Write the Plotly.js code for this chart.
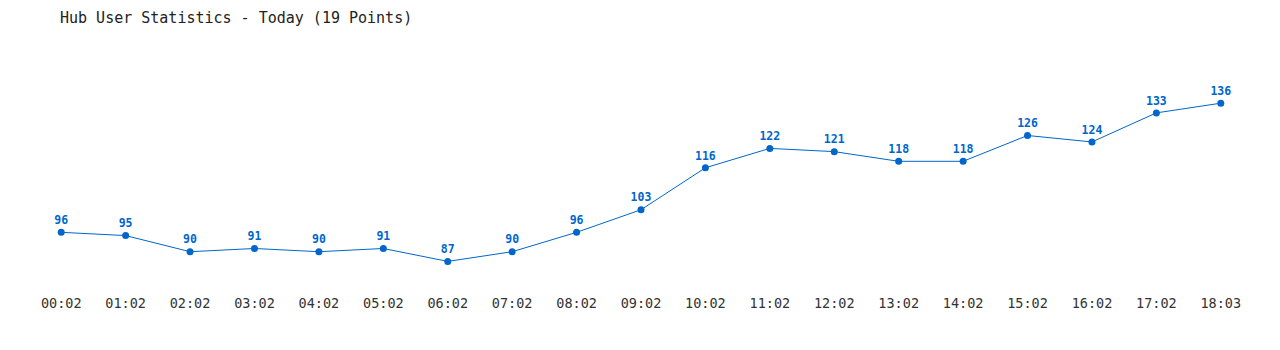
<!DOCTYPE html>
<html><head><meta charset="utf-8">
<script src="https://cdn.plot.ly/plotly-3.0.1.min.js"></script>
<style>body{margin:0;background:#fff}#chart{width:1280px;height:350px}</style>
</head><body><div id="chart"></div>
<script>
const times = ["00:02","01:02","02:02","03:02","04:02","05:02","06:02","07:02","08:02","09:02","10:02","11:02","12:02","13:02","14:02","15:02","16:02","17:02","18:03"];
const users = [96,95,90,91,90,91,87,90,96,103,116,122,121,118,118,126,124,133,136];
const idx = times.map((t,i)=>i);

const trace = {
  x: idx, y: users, type: 'scatter', mode: 'lines+markers+text',
  text: users.map(String), textposition: 'top center',
  textfont: {family: 'DejaVu Sans Mono', size: 11.5, color: '#0066cc', weight: 'bold'},
  line: {color: '#0066cc', width: 1},
  marker: {color: '#0066cc', size: 7},
  cliponaxis: false, hoverinfo: 'none'
};
const layout = {
  width: 1280, height: 350,
  margin: {l: 29, r: 27, t: 58, b: 66},
  paper_bgcolor: '#fff', plot_bgcolor: '#fff',
  showlegend: false,
  title: {text: 'Hub User Statistics - Today (19 Points)', font: {family: 'DejaVu Sans Mono', size: 15, color: '#222'},
    xref: 'container', yref: 'container', x: 60/1280, xanchor: 'left', y: 1-18/350, yanchor: 'middle'},
  xaxis: {range: [-0.5, 18.5], tickvals: idx, ticktext: times, showgrid: false, zeroline: false, showline: false,
    ticks: '', ticklabelstandoff: 9, tickfont: {family: 'DejaVu Sans Mono', size: 13.5, color: '#333'}, fixedrange: true},
  yaxis: {range: [80, 150], visible: false, showgrid: false, zeroline: false, fixedrange: true}
};
Plotly.newPlot('chart', [trace], layout, {displayModeBar: false, staticPlot: true});
</script></body></html>
